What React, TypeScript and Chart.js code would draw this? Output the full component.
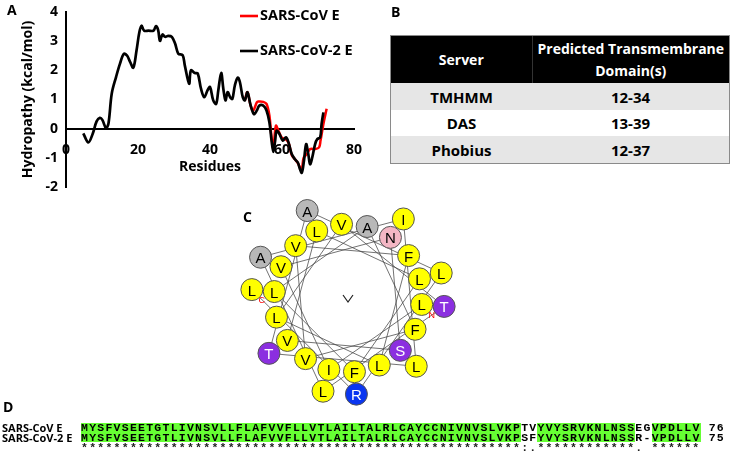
import React, { useEffect, useRef } from "react";
import { Chart, registerables } from "chart.js";

Chart.register(...registerables);

// ---------- Panel A data (hydropathy) ----------
const cov2Residues = [4.8, 6.2, 7.4, 8.5, 9.4, 10.1, 11.1, 11.8, 12.7, 13.9, 15, 16.1, 17, 17.8, 18.7, 19.6, 20.4, 21, 21.7, 22.9, 24.3, 25, 25.6, 26.1, 26.8, 27.5, 28.4, 29.4, 30.3, 31.2, 32.4, 33, 34.2, 34.7, 35.8, 36.6, 37.5, 38.4, 39.3, 40, 40.9, 41.7, 42.3, 43.1, 43.7, 44.3, 44.9, 45.6, 46.2, 46.9, 47.7, 48.3, 49.1, 49.7, 50.4, 51.3, 52.2, 53, 53.7, 54.8, 55.7, 56.5, 57.1, 57.6, 58.1, 58.5, 59.3, 60.2, 61.1, 61.8, 62.7, 63.6, 64.4, 65, 65.5, 66.1, 66.7, 67.3, 67.8, 68.4, 69.2, 69.8, 70.6, 71, 71.5];
const cov2Values = [-0.16, -0.47, -0.18, 0.25, 0.37, 0.3, 0.02, 0.18, 1.2, 1.77, 2.23, 2.57, 2.5, 2.29, 2.09, 2.69, 3.32, 3.53, 3.36, 3.36, 3.36, 3.52, 3.38, 3.01, 3.23, 3.15, 3.18, 3.15, 2.92, 2.57, 2.52, 2.17, 1.54, 2.0, 1.91, 1.89, 1.37, 1.08, 1.31, 1.43, 0.97, 0.85, 1.31, 1.91, 1.37, 0.97, 1.25, 1.08, 1.02, 1.48, 1.75, 1.6, 1.08, 0.97, 1.25, 0.79, 0.5, 0.62, 0.79, 0.79, 0.62, 0.22, -0.41, -0.8, -0.41, -0.07, -0.18, -0.41, -0.3, -0.47, -0.87, -1.05, -1.16, -1.39, -1.51, -1.1, -0.53, -0.87, -1.22, -0.99, -0.53, -0.36, -0.3, 0.16, 0.56];
const covResidues = [49.7, 50.4, 51.3, 52, 53, 53.4, 54.8, 55.7, 56.5, 57.1, 57.6, 58.3, 59, 59.9, 60.6, 61.4, 62, 62.7, 63.6, 64.4, 65, 65.5, 66, 66.9, 67.8, 69.2, 70.3, 70.7, 71.5, 72.4];
const covValues = [0.97, 1.25, 0.79, 0.62, 0.9, 0.93, 0.92, 0.85, 0.45, -0.3, -0.64, 0.1, -0.07, -0.3, -0.35, -0.4, -0.55, -0.9, -1.05, -1.18, -1.33, -1.4, -1.0, -0.87, -0.7, -0.7, -0.64, -0.41, 0.16, 0.68];
const seriesNames = ["SARS-CoV E", "SARS-CoV-2 E"];
const xTicks = [0, 20, 40, 60, 80];
const yTicks = [-2, -1, 0, 1, 2, 3, 4];

// ---------- Panel B data ----------
const servers = ["TMHMM", "DAS", "Phobius"];
const tmDomains = ["12-34", "13-39", "12-37"];

// ---------- Panel C data ----------
const wheelSeq = "LIVNSVLLFLAFVVFLLVTLAILTALRL";

// ---------- Panel D data ----------
const seqNames = ["SARS-CoV E", "SARS-CoV-2 E"];
const seqRow1 = ["MYSFVSEETGTLIVNSVLLFLAFVVFLLVTLAILTALRLCAYCCNIVNVSLVKP", "TV", "YVYSRVKNLNSS", "EG", "VPDLLV"];
const seqRow2 = ["MYSFVSEETGTLIVNSVLLFLAFVVFLLVTLAILTALRLCAYCCNIVNVSLVKP", "SF", "YVYSRVKNLNSS", "R-", "VPDLLV"];
const seqHighlight = [true, false, true, false, true];
const seqLengths = ["76", "75"];
const consensus = "******************************************************:.************. ******";

const FONT = "'Open Sans', 'Noto Sans', sans-serif";

const legendPlugin = {
  id: "insetLegend",
  afterDatasetsDraw(chart: any) {
    const ctx = chart.ctx;
    const items = [
      { color: "#ff0000", text: seriesNames[0], y: 16 },
      { color: "#000000", text: seriesNames[1], y: 51 },
    ];
    ctx.save();
    for (const it of items) {
      ctx.strokeStyle = it.color;
      ctx.lineWidth = 2.6;
      ctx.beginPath();
      ctx.moveTo(240, it.y);
      ctx.lineTo(258, it.y);
      ctx.stroke();
      ctx.fillStyle = "#000";
      ctx.font = "bold 14.5px " + FONT;
      ctx.textBaseline = "middle";
      ctx.textAlign = "left";
      ctx.fillText(it.text, 260, it.y);
    }
    ctx.restore();
  },
};

function HydropathyChart() {
  const ref = useRef<HTMLCanvasElement | null>(null);
  useEffect(() => {
    if (!ref.current) return;
    const tickFont = { family: FONT, weight: "bold" as const, size: 14 };
    const chart = new Chart(ref.current, {
      type: "line",
      data: {
        datasets: [
          {
            label: seriesNames[0],
            data: covResidues.map((x, i) => ({ x, y: covValues[i] })),
            borderColor: "#ff0000",
            borderWidth: 2.5,
            pointRadius: 0,
            tension: 0.35,
            order: 1,
          },
          {
            label: seriesNames[1],
            data: cov2Residues.map((x, i) => ({ x, y: cov2Values[i] })),
            borderColor: "#000000",
            borderWidth: 2.7,
            pointRadius: 0,
            tension: 0.35,
            order: 0,
          },
        ],
      },
      options: {
        animation: false,
        responsive: false,
        layout: { padding: { top: 12, right: 14, bottom: 13, left: 0 } },
        plugins: { legend: { display: false }, tooltip: { enabled: false } },
        scales: {
          x: {
            type: "linear",
            min: 0,
            max: 80,
            position: { y: 0 } as any,
            afterBuildTicks: (s: any) => {
              s.ticks = xTicks.map((v) => ({ value: v }));
            },
            afterFit: (s: any) => {
              s.paddingLeft = 0;
              s.paddingRight = 0;
            },
            grid: { display: false, drawTicks: false },
            border: { display: true, color: "#000", width: 2 },
            ticks: { padding: 13, color: "#000", font: tickFont, maxRotation: 0, autoSkip: false },
            title: { display: true, text: "Residues", color: "#000", font: tickFont, padding: { top: -13, bottom: 0 } },
          },
          y: {
            type: "linear",
            min: -2,
            max: 4,
            afterBuildTicks: (s: any) => {
              s.ticks = yTicks.map((v) => ({ value: v }));
            },
            afterFit: (s: any) => {
              s.width = 66;
              s.paddingTop = 0;
              s.paddingBottom = 0;
            },
            grid: { display: false, drawTicks: false },
            border: { display: true, color: "#000", width: 2 },
            ticks: { padding: 8, color: "#000", font: tickFont },
            title: { display: true, text: "Hydropathy (kcal/mol)", color: "#000", font: tickFont, padding: { top: 19.5, bottom: 0 } },
          },
        },
      },
      plugins: [legendPlugin],
    });
    return () => chart.destroy();
  }, []);
  return <canvas ref={ref} width={368} height={200} style={{ width: 368, height: 200, display: "block" }} />;
}

function residueColor(aa: string) {
  if (aa === "A") return { fill: "#b8b8b8", text: "#000" };
  if (aa === "N") return { fill: "#f4b6c4", text: "#000" };
  if (aa === "S" || aa === "T") return { fill: "#8b2fe0", text: "#fff" };
  if (aa === "R") return { fill: "#0a36f0", text: "#fff" };
  return { fill: "#ffff00", text: "#000" };
}

function HelicalWheel() {
  const cx = 348;
  const cy = 298;
  const pts = wheelSeq.split("").map((aa, i) => {
    const ang = ((5 + 100 * i) * Math.PI) / 180;
    const r = i < 18 ? 74 : 96.5;
    return { aa, x: cx + r * Math.cos(ang), y: cy + r * Math.sin(ang) };
  });
  const first = pts[0];
  const last = pts[pts.length - 1];
  return (
    <svg width={732} height={467} style={{ position: "absolute", left: 0, top: 0 }}>
      {pts.slice(1).map((p, i) => (
        <line key={"l" + i} x1={pts[i].x} y1={pts[i].y} x2={p.x} y2={p.y} stroke="#444" strokeWidth={0.75} />
      ))}
      <polyline points={`${cx - 5},${cy - 3} ${cx},${cy + 4} ${cx + 5},${cy - 3}`} fill="none" stroke="#222" strokeWidth={1.2} />
      {pts.map((p, i) => {
        const c = residueColor(p.aa);
        return (
          <g key={"c" + i}>
            <circle cx={p.x} cy={p.y} r={11} fill={c.fill} stroke="#555" strokeWidth={1} />
            <text x={p.x} y={p.y + 0.5} fill={c.text} fontFamily="'Liberation Sans', Arial, sans-serif" fontSize={15} textAnchor="middle" dominantBaseline="central">
              {p.aa}
            </text>
          </g>
        );
      })}
      <text x={first.x + 10} y={first.y + 11} fill="#ff0000" fontFamily="'Liberation Sans', Arial, sans-serif" fontSize={9} textAnchor="middle" dominantBaseline="central">N</text>
      <text x={last.x + 10} y={last.y + 10} fill="#ff0000" fontFamily="'Liberation Sans', Arial, sans-serif" fontSize={9} textAnchor="middle" dominantBaseline="central">C</text>
    </svg>
  );
}

function ServerTable() {
  const rowH = [27, 26, 27];
  const rowBg = ["#e6e6e6", "#ffffff", "#e6e6e6"];
  const cell = (w: number | string, h: number, content: React.ReactNode, extra: any = {}) => (
    <div style={{ width: w, height: h, display: "flex", alignItems: "center", justifyContent: "center", textAlign: "center", ...extra }}>{content}</div>
  );
  return (
    <div style={{ position: "absolute", left: 390, top: 35, width: 340, border: "1px solid #8a8a8a", boxSizing: "border-box", fontFamily: FONT, fontWeight: 700 }}>
      <div style={{ display: "flex", background: "#000", color: "#fff", fontSize: 14 }}>
        {cell(141, 47, "Server", { borderRight: "1px solid #333" })}
        {cell(197, 47, <span style={{ lineHeight: "22px" }}>Predicted Transmembrane<br />Domain(s)</span>)}
      </div>
      {servers.map((s, i) => (
        <div key={s} style={{ display: "flex", background: rowBg[i], color: "#000", fontSize: 15 }}>
          {cell(141, rowH[i], s)}
          {cell(197, rowH[i], tmDomains[i])}
        </div>
      ))}
    </div>
  );
}

function Alignment() {
  const mono: any = {
    fontFamily: "'Liberation Mono', 'DejaVu Sans Mono', monospace",
    fontWeight: 700,
    fontSize: 11.5,
    letterSpacing: "1.25px",
    whiteSpace: "pre",
  };
  const rowH = 9.7;
  const renderRow = (segs: string[], len: string, top: number) => (
    <div style={{ position: "absolute", left: 81, top, height: rowH, lineHeight: rowH + "px", ...mono }}>
      {segs.map((s, i) => (
        <span key={i} style={{ display: "inline-block", height: rowH, background: seqHighlight[i] ? "#66ff33" : "transparent", color: "#000" }}>{s}</span>
      ))}
      <span style={{ display: "inline-block", height: rowH }}>{" " + len}</span>
    </div>
  );
  const nameStyle: any = { position: "absolute", left: 2, fontFamily: FONT, fontWeight: 700, fontSize: 11, lineHeight: "14px" };
  return (
    <>
      <div style={{ ...nameStyle, top: 421 }}>{seqNames[0]}</div>
      <div style={{ ...nameStyle, top: 431 }}>{seqNames[1]}</div>
      {renderRow(seqRow1, seqLengths[0], 423)}
      {renderRow(seqRow2, seqLengths[1], 432.7)}
      <div style={{ position: "absolute", left: 81, top: 443, lineHeight: "10px", ...mono, color: "#222" }}>{consensus}</div>
    </>
  );
}

export default function App() {
  const label = (t: string, left: number, top: number) => (
    <div style={{ position: "absolute", left, top, fontFamily: FONT, fontWeight: 700, fontSize: 14, lineHeight: "16px" }}>{t}</div>
  );
  return (
    <div style={{ position: "fixed", left: 0, top: 0, width: 732, height: 467, background: "#fff", overflow: "hidden", color: "#000" }}>
      <div style={{ position: "absolute", left: 0, top: 0 }}>
        <HydropathyChart />
      </div>
      <ServerTable />
      <HelicalWheel />
      <Alignment />
      {label("A", 7, 2)}
      {label("B", 391, 4)}
      {label("C", 243, 209)}
      {label("D", 3, 399)}
    </div>
  );
}
